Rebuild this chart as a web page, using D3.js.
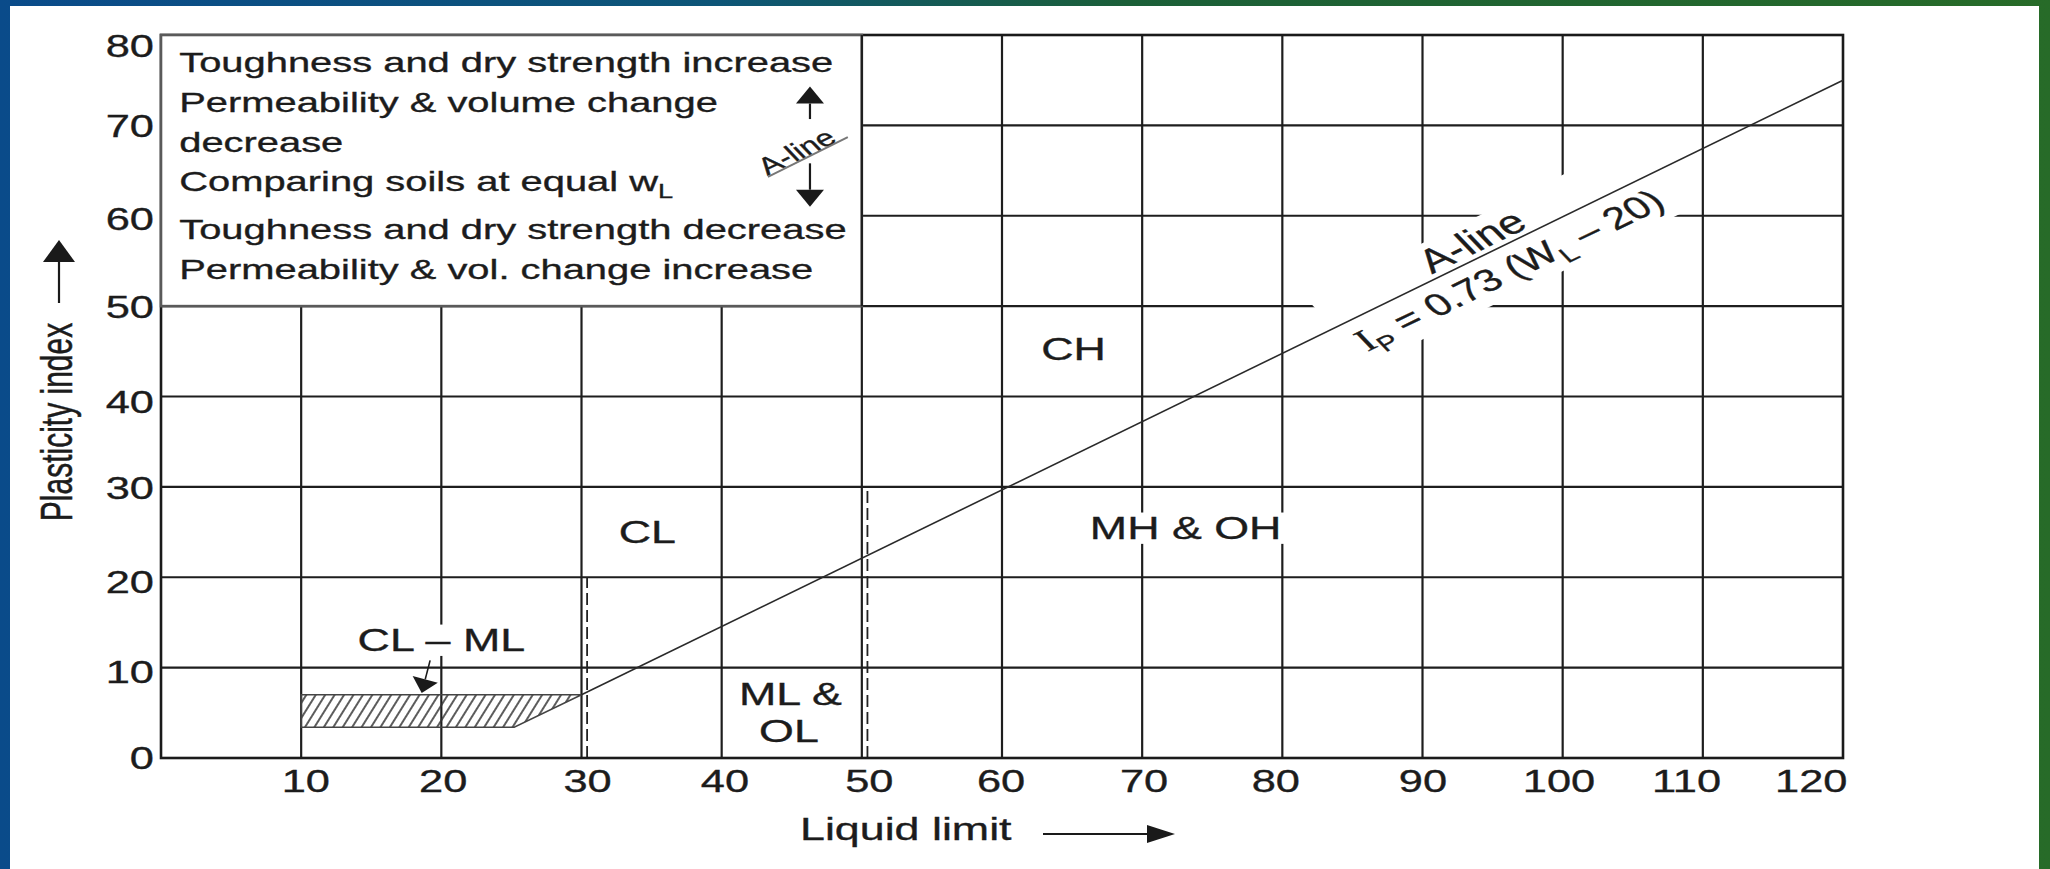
<!DOCTYPE html>
<html>
<head>
<meta charset="utf-8">
<title>Plasticity chart</title>
<script src="https://d3js.org/d3.v7.min.js"></script>
<style>
  body { margin: 0; background: #fff; }
  text { font-family: "Liberation Sans", Arial, sans-serif; fill: #1c1c1c; stroke: #1c1c1c; stroke-width: 0.35; }
</style>
</head>
<body>
<div id="chart"></div>
<script>
// values (liquid limit on x, plasticity index on y)
var xTicks = [10, 20, 30, 40, 50, 60, 70, 80, 90, 100, 110, 120];
var xTickLabelAt = [10.3, 20.1, 30.4, 40.2, 50.5, 59.9, 70.1, 79.5, 90, 99.7, 108.8, 117.7];
var yTicks = [0, 10, 20, 30, 40, 50, 60, 70, 80];
var yTickLabelAt = [0.1, 9.6, 19.5, 29.95, 39.45, 49.95, 59.7, 69.95, 78.8];
var gridX = [10, 20, 30, 40, 50, 60, 70, 80, 90, 100, 110];
var gridY = [10, 20, 30, 40, 50, 60, 70];

var aLine = [[30, 7], [120, 75]];
var clmlZone = [[10, 3.4], [10, 7], [30, 7], [25.2, 3.4]];
var dashX = [30.4, 50.4];
var dashTop = [20, 30];

// zone names, one entry per label, lines of the same label share a text
var zoneNames = [["CL"], ["CH"], ["MH & OH"], ["ML &", "OL"]];
var zoneAt = [[[34.7, 23.8]], [[65.1, 44.0]], [[73.1, 24.2]], [[44.9, 5.9], [44.8, 1.8]]];
var clmlLabelAt = [20.0, 11.8];
var clmlArrow = [[19.2, 10.8], [18.6, 7.2]];

var legendLines = ["Toughness and dry strength increase", "Permeability & volume change", "decrease",
  "Comparing soils at equal w", "Toughness and dry strength decrease", "Permeability & vol. change increase"];
var legendSub = ["", "", "", "L", "", ""];
var legendY = [75.9, 71.5, 67.1, 62.7, 57.4, 53.0];
var legendBox = [[0, 50], [50, 80]];
var legendArrowX = 46.3;
var legendUp = [70.7, 74.3];
var legendDown = [65.8, 61.0];
var legendALineAt = [45.4, 67.0];
var legendALineRule = [[43.3, 64.3], [49.0, 68.7]];

var aLineAnchor = 95;           // point on the A-line the two labels hang from
var aLineLabelAt = [93.5, 57.2];
var formulaAt = [96.15, 54.0];

var W = 2050, H = 869;
var SX = 1.4; // the picture is stretched sideways, so is the lettering

var x = d3.scaleLinear().domain([0, 120]).range([161, 1843]);
var y = d3.scaleLinear().domain([0, 80]).range([758, 35]);

var svg = d3.select("#chart").append("svg").attr("width", W).attr("height", H);
var defs = svg.append("defs");

var grad = defs.append("linearGradient").attr("id", "bg")
  .attr("x1", 0).attr("x2", 1).attr("y1", 0).attr("y2", 0);
grad.append("stop").attr("offset", "0%").attr("stop-color", "#0a4b8a");
grad.append("stop").attr("offset", "35%").attr("stop-color", "#0d5577");
grad.append("stop").attr("offset", "55%").attr("stop-color", "#1b5f38");
grad.append("stop").attr("offset", "100%").attr("stop-color", "#276b28");

defs.append("pattern").attr("id", "hatch").attr("patternUnits", "userSpaceOnUse")
  .attr("width", 8).attr("height", 8).attr("patternTransform", "rotate(32)")
  .append("line").attr("x1", 4).attr("y1", 0).attr("x2", 4).attr("y2", 8)
  .attr("stroke", "#333").attr("stroke-width", 1.6);

// slide background + white sheet
svg.append("rect").attr("width", W).attr("height", H).attr("fill", "url(#bg)");
svg.append("rect").attr("x", 10).attr("y", 6).attr("width", 2029).attr("height", H - 6).attr("fill", "#fff");

var plot = svg.append("g");

// grid
plot.selectAll(".vgrid").data(gridX).join("line").attr("class", "vgrid")
  .attr("x1", d => x(d)).attr("x2", d => x(d))
  .attr("y1", y(0)).attr("y2", y(80))
  .attr("stroke", "#1e1e1e").attr("stroke-width", 2.2);
plot.selectAll(".hgrid").data(gridY).join("line").attr("class", "hgrid")
  .attr("x1", x(0)).attr("x2", x(120))
  .attr("y1", d => y(d)).attr("y2", d => y(d))
  .attr("stroke", "#1e1e1e").attr("stroke-width", 2.2);

// dashed boundaries
plot.selectAll(".dash").data(dashX).join("line").attr("class", "dash")
  .attr("x1", d => x(d)).attr("x2", d => x(d))
  .attr("y1", y(0)).attr("y2", (d, i) => y(dashTop[i]))
  .attr("stroke", "#222").attr("stroke-width", 1.8).attr("stroke-dasharray", "12,5");

// frame
plot.append("rect").attr("x", x(0)).attr("y", y(80))
  .attr("width", x(120) - x(0)).attr("height", y(0) - y(80))
  .attr("fill", "none").attr("stroke", "#1a1a1a").attr("stroke-width", 2.6);

// legend box
plot.append("rect").attr("x", x(legendBox[0][0])).attr("y", y(legendBox[1][1]))
  .attr("width", x(legendBox[1][0]) - x(legendBox[0][0]))
  .attr("height", y(legendBox[0][1]) - y(legendBox[1][1]))
  .attr("fill", "#fff").attr("stroke", "#5a5a5a").attr("stroke-width", 2.6);
plot.append("line").attr("x1", x(50)).attr("x2", x(50)).attr("y1", y(50)).attr("y2", y(80))
  .attr("stroke", "#1e1e1e").attr("stroke-width", 2.2);

// CL-ML hatched zone
plot.append("path").datum(clmlZone)
  .attr("d", d3.line().x(d => x(d[0])).y(d => y(d[1])).curve(d3.curveLinearClosed))
  .attr("fill", "url(#hatch)").attr("stroke", "#444").attr("stroke-width", 1.5);

// text helper: stretched sideways like the picture, optional white knockout
function addText(g, size, parts, opts) {
  opts = opts || {};
  var t = g.append("text").attr("font-size", size)
    .attr("text-anchor", opts.anchor || "middle").attr("dy", opts.dy || 0);
  if (opts.at) t.attr("x", opts.at[0]).attr("y", opts.at[1]);
  parts.forEach(function (p) {
    var ts = t.append("tspan").text(p.t);
    if (p.sub) ts.attr("font-size", size * 0.68).attr("dy", size * 0.25);
    if (p.back) ts.attr("dy", -size * 0.25);
    if (p.serif) ts.attr("font-family", "Liberation Serif, serif");
    if (p.line) ts.attr("x", p.line[0]).attr("y", p.line[1]);
  });
  return t;
}
function placeText(parent, px, py, angle, size, parts, opts) {
  opts = opts || {};
  var g = parent.append("g")
    .attr("transform", "translate(" + px + "," + py + ") scale(" + (opts.sx || SX) + ",1) rotate(" + (-angle) + ")");
  var t = addText(g, size, parts, opts);
  if (opts.knock) {
    var b = t.node().getBBox();
    var pad = opts.knock;
    g.insert("rect", "text").attr("x", b.x - pad).attr("y", b.y + pad * 0.5)
      .attr("width", b.width + 2 * pad).attr("height", b.height - pad)
      .attr("fill", "#fff");
  }
  return g;
}

// zone labels (extra lines placed relative to the first one)
var labels = plot.append("g");
zoneNames.forEach(function (lines, i) {
  var p0 = zoneAt[i][0];
  var parts = lines.map(function (s, j) {
    var pj = zoneAt[i][j];
    return { t: s, line: [(x(pj[0]) - x(p0[0])) / SX, y(pj[1]) - y(p0[1])] };
  });
  placeText(labels, x(p0[0]), y(p0[1]), 0, 32, parts, { knock: 4 });
});
placeText(labels, x(clmlLabelAt[0]), y(clmlLabelAt[1]), 0, 32, [{ t: "CL \u2013 ML" }], { knock: 4 });

// A-line labels, rotated with the line, one shared white knockout
var sx0 = x(aLine[1][0]) - x(aLine[0][0]), sy0 = y(aLine[0][1]) - y(aLine[1][1]);
var screenAng = Math.atan2(sy0, sx0);
var a0 = Math.atan(Math.tan(screenAng) * SX);
var localAng = a0 * 180 / Math.PI;
var aLineAt = d3.scaleLinear().domain([aLine[0][0], aLine[1][0]]).range([aLine[0][1], aLine[1][1]]);
var ax = x(aLineAnchor), ay = y(aLineAt(aLineAnchor));
function toLocal(px, py) {
  var p = (px - ax) / SX, q = py - ay;
  return [p * Math.cos(a0) - q * Math.sin(a0), p * Math.sin(a0) + q * Math.cos(a0)];
}
var ag = labels.append("g")
  .attr("transform", "translate(" + ax + "," + ay + ") scale(" + SX + ",1) rotate(" + (-localAng) + ")");
var t1 = addText(ag, 33, [{ t: "A-line" }], { dy: "0.35em", at: toLocal(x(aLineLabelAt[0]), y(aLineLabelAt[1])) });
var t2 = addText(ag, 31,
  [{ t: "I", serif: true }, { t: "P", sub: true }, { t: " = 0.73 (W", back: true }, { t: "L", sub: true }, { t: " \u2013 20)", back: true }],
  { dy: "0.35em", at: toLocal(x(formulaAt[0]), y(formulaAt[1])) });
var b1 = t1.node().getBBox(), b2 = t2.node().getBBox();
var kx0 = Math.min(b1.x, b2.x) - 6, kx1 = Math.max(b1.x + b1.width, b2.x + b2.width) + 6;
var ky0 = Math.min(b1.y, b2.y), ky1 = Math.max(b1.y + b1.height, b2.y + b2.height);
ag.insert("rect", "text").attr("x", kx0).attr("y", ky0).attr("width", kx1 - kx0).attr("height", ky1 - ky0)
  .attr("fill", "#fff");

// A-line
plot.append("path").datum(aLine)
  .attr("d", d3.line().x(d => x(d[0])).y(d => y(d[1])))
  .attr("fill", "none").attr("stroke", "#2a2a2a").attr("stroke-width", 1.6);

// legend text
var leg = plot.append("g");
legendLines.forEach(function (s, i) {
  var parts = [{ t: s }];
  if (legendSub[i]) parts.push({ t: legendSub[i], sub: true });
  placeText(leg, x(1.3), y(legendY[i]), 0, 28.5, parts, { anchor: "start" });
});
placeText(leg, x(legendALineAt[0]), y(legendALineAt[1]), localAng, 24, [{ t: "A-line" }], { dy: "0.3em" });
leg.append("line")
  .attr("x1", x(legendALineRule[0][0])).attr("y1", y(legendALineRule[0][1]))
  .attr("x2", x(legendALineRule[1][0])).attr("y2", y(legendALineRule[1][1]))
  .attr("stroke", "#777").attr("stroke-width", 2);

function arrow(g, x1, y1, x2, y2, len, half, sw) {
  var dx = x2 - x1, dy = y2 - y1, L = Math.sqrt(dx * dx + dy * dy);
  var ux = dx / L, uy = dy / L;
  var bx = x2 - ux * len, by = y2 - uy * len;
  g.append("line").attr("x1", x1).attr("y1", y1).attr("x2", bx).attr("y2", by)
    .attr("stroke", "#1a1a1a").attr("stroke-width", sw || 2);
  g.append("path")
    .attr("d", "M" + x2 + "," + y2 + "L" + (bx - uy * half) + "," + (by + ux * half) +
      "L" + (bx + uy * half) + "," + (by - ux * half) + "Z")
    .attr("fill", "#1a1a1a");
}

arrow(leg, x(legendArrowX), y(legendUp[0]), x(legendArrowX), y(legendUp[1]), 17, 14, 2.2);
arrow(leg, x(legendArrowX), y(legendDown[0]), x(legendArrowX), y(legendDown[1]), 17, 14, 2.2);
arrow(plot, x(clmlArrow[0][0]), y(clmlArrow[0][1]), x(clmlArrow[1][0]), y(clmlArrow[1][1]), 14, 13, 1.6);

// axes
var gx = svg.append("g").attr("transform", "translate(0," + y(0) + ")")
  .call(d3.axisBottom(x).tickValues(xTicks).tickSize(0).tickPadding(0));
gx.select(".domain").remove();
gx.attr("font-size", null).attr("font-family", null);
gx.selectAll(".tick text").each(function (d, i) {
  d3.select(this).attr("y", 0).attr("dy", null).attr("fill", null).attr("font-size", 31)
    .attr("transform", "translate(" + (x(xTickLabelAt[i]) - x(d)) + ",33.5) scale(" + SX + ",1)");
});

var gy = svg.append("g").attr("transform", "translate(" + x(0) + ",0)")
  .call(d3.axisLeft(y).tickValues(yTicks).tickSize(0).tickPadding(0));
gy.select(".domain").remove();
gy.attr("font-size", null).attr("font-family", null);
gy.selectAll(".tick text").each(function (d, i) {
  d3.select(this).attr("x", 0).attr("dy", null).attr("fill", null).attr("font-size", 31)
    .attr("text-anchor", "end")
    .attr("transform", "translate(-7," + (y(yTickLabelAt[i]) - y(d) + 11) + ") scale(" + SX + ",1)");
});

// axis titles
var titles = svg.append("g");
placeText(titles, 800, 840, 0, 32, [{ t: "Liquid limit" }], { anchor: "start" });
arrow(titles, 1043, 834, 1175, 834, 28, 9, 2);
placeText(titles, 72, 422, 90, 30, [{ t: "Plasticity index" }], { sx: 1.45 });
arrow(titles, 59, 303, 59, 240, 22, 16, 2.2);
</script>
</body>
</html>
